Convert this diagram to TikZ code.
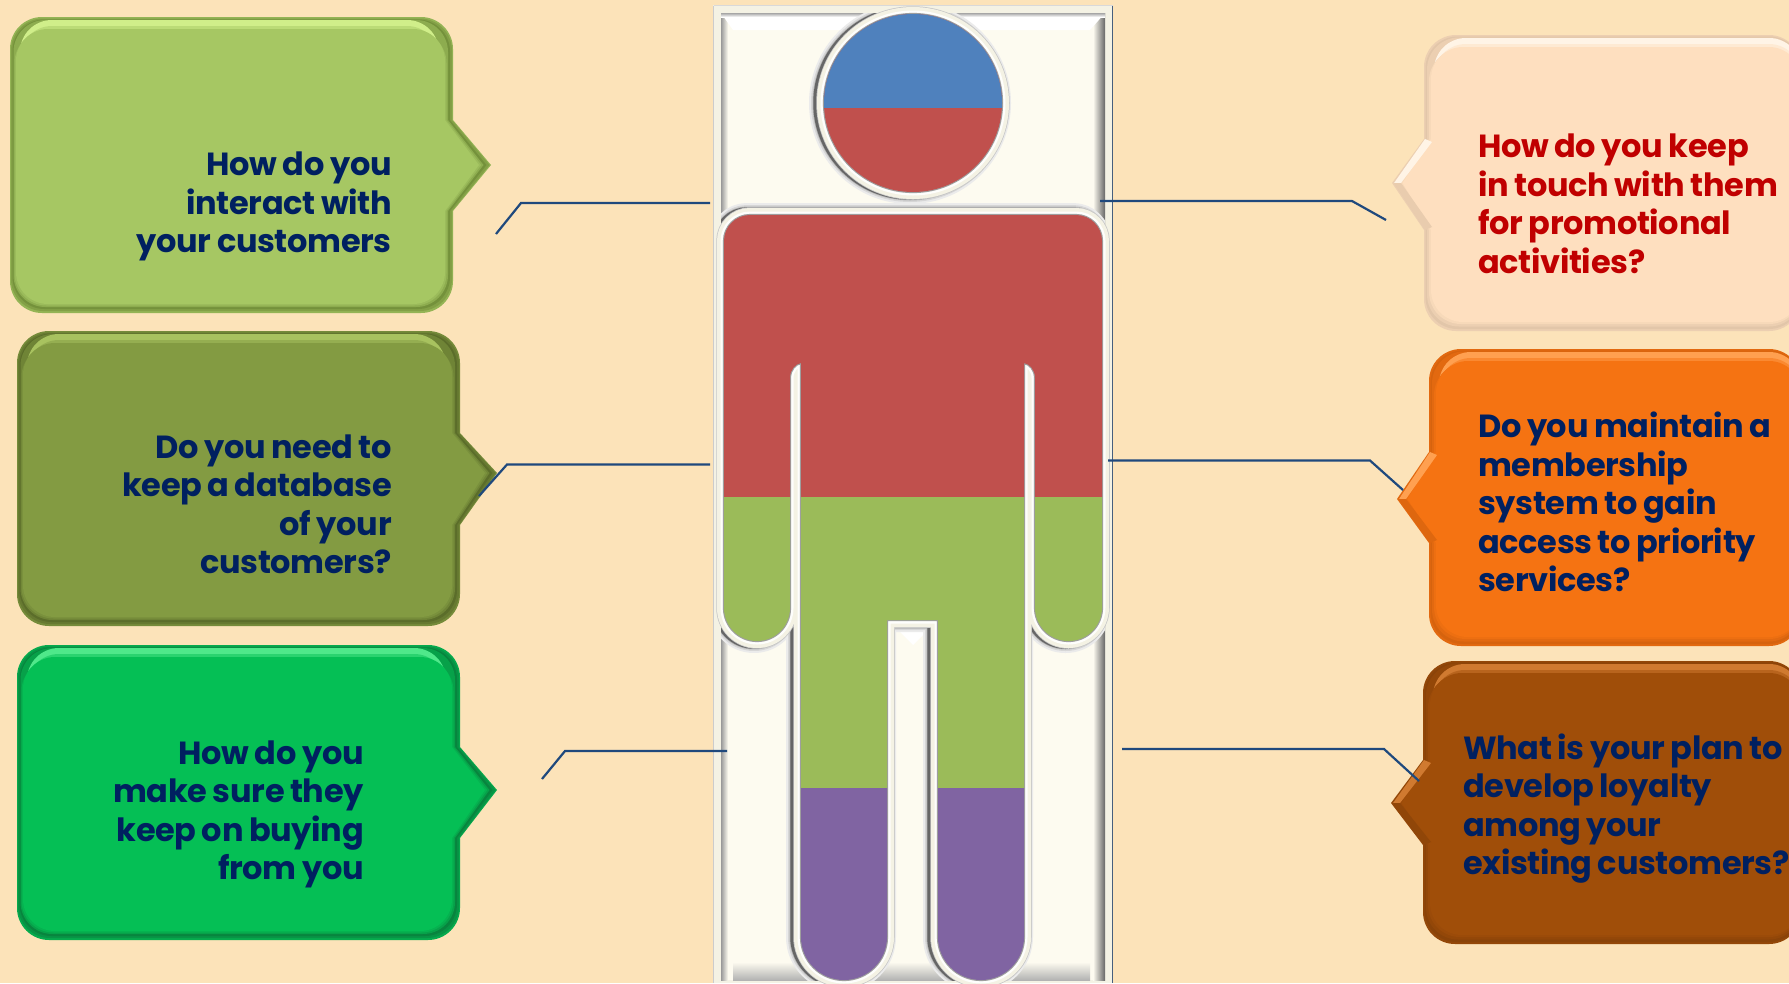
\documentclass[tikz,border=0pt]{standalone}
\usepackage{fontspec}
\setmainfont{Poppins}[WordSpace=0.85,LetterSpace=-1]
\definecolor{pagebg}{HTML}{FCE3B9}
\definecolor{panel}{HTML}{FDFBF0}
\definecolor{rimc}{HTML}{F4F2E4}
\definecolor{navy}{HTML}{002060}
\definecolor{leadc}{HTML}{1F497D}
\definecolor{figred}{HTML}{C0504D}
\definecolor{figgreen}{HTML}{9BBB59}
\definecolor{figpurple}{HTML}{8064A2}
\definecolor{figblue}{HTML}{4F81BD}
\definecolor{aM}{HTML}{A6C763}\definecolor{aH}{HTML}{D0EE8A}\definecolor{aD}{HTML}{5F7A2A}
\definecolor{bM}{HTML}{839B42}\definecolor{bH}{HTML}{A8C25F}\definecolor{bD}{HTML}{4A5A20}
\definecolor{cM}{HTML}{05BF55}\definecolor{cH}{HTML}{4FE88A}\definecolor{cD}{HTML}{0A6A34}
\definecolor{dM}{HTML}{FEDFBF}\definecolor{dH}{HTML}{FFF4E6}\definecolor{dD}{HTML}{B8A088}
\definecolor{eM}{HTML}{F57312}\definecolor{eH}{HTML}{FFA050}\definecolor{eD}{HTML}{A84C08}
\definecolor{fM}{HTML}{A04E09}\definecolor{fH}{HTML}{D07A30}\definecolor{fD}{HTML}{6A3206}
\definecolor{qred}{HTML}{C00000}
\tikzset{
  leadline/.style={draw=leadc,line width=2.2pt},
  qtext/.style={font=\bfseries\fontsize{32}{38.5}\selectfont,inner sep=0pt,text=navy},
}
% callout geometry: l t r b tipx tipy base1 base2
\newcommand\setcall[8]{\def\qL{#1}\def\qT{#2}\def\qR{#3}\def\qB{#4}\def\qX{#5}\def\qY{#6}\def\qU{#7}\def\qV{#8}}
% inset left, top, right, bottom, colour
\newcommand\layerR[5]{\fill[#5,rounded corners=32pt] ({\qL+#1},{(\qT+\qB)/2}) -- ({\qL+#1},{\qT+#2}) -- ({\qR-#3},{\qT+#2}) -- ({\qR-#3},{\qU-20}) [sharp corners] -- ({\qR-#3},\qU) -- ({\qX-1.5*#3},\qY) -- ({\qR-#3},\qV) -- ({\qR-#3},{\qV+20}) [rounded corners=32pt] -- ({\qR-#3},{\qB-#4}) -- ({\qL+#1},{\qB-#4}) -- cycle;}
\newcommand\layerL[5]{\fill[#5,rounded corners=32pt] ({\qR-#3},{(\qT+\qB)/2}) -- ({\qR-#3},{\qT+#2}) -- ({\qL+#1},{\qT+#2}) -- ({\qL+#1},{\qU-20}) [sharp corners] -- ({\qL+#1},\qU) -- ({\qX+1.5*#1},\qY) -- ({\qL+#1},\qV) -- ({\qL+#1},{\qV+20}) [rounded corners=32pt] -- ({\qL+#1},{\qB-#4}) -- ({\qR-#3},{\qB-#4}) -- cycle;}
\newcommand\bevelR[3]{%
  \layerR{0}{0}{0}{0}{#1!75!#3}
  \layerR{1}{1.5}{1}{2}{#1!50!#3}
  \layerR{2.5}{2.5}{3}{4}{#1!30!#3}
  \layerR{3.5}{3}{5}{6}{#1!65!#3}
  \layerR{10}{3}{14}{30}{#2}
  \layerR{10}{9}{14}{30}{#1!50!#2}
  \layerR{4.5}{14}{6.5}{7.5}{#1!85!#3}
  \layerR{6}{12}{8}{9}{#1}}
\newcommand\bevelL[3]{%
  \layerL{0}{0}{-6}{0}{#1!75!#3}
  \layerL{1.5}{1.5}{-6}{2}{#1!60!#3}
  \layerL{3}{2.5}{-6}{4.5}{#1!75!#3}
  \layerL{10}{3}{-6}{30}{#2}
  \layerL{10}{9}{-6}{30}{#1!50!#2}
  \layerL{5}{14}{-6}{7}{#1!90!#3}
  \layerL{7}{12}{-6}{9}{#1}
  \fill[#2] (\qL+1,\qU) -- (\qX+2,\qY) -- (\qX+9,\qY) -- (\qL+8,\qU+3) -- cycle;
  \fill[#1!70!#3] (\qL+1,\qV) -- (\qX+2,\qY) -- (\qX+9,\qY) -- (\qL+8,\qV-3) -- cycle;}
% silhouette of the figure (body)
\newcommand\bodypath{
  [rounded corners=26pt] (913,215) -- (1102,215)
  [rounded corners=33.4pt] -- (1102,641) -- (1035,641)
  [sharp corners] -- (1035,378) .. controls (1035,370) and (1030,364) .. (1024,363)
  [rounded corners=43pt] -- (1024,980) -- (938,980)
  [sharp corners] -- (938,620) -- (887,620)
  [rounded corners=43pt] -- (887,980) -- (801,980)
  [sharp corners] -- (801,363) .. controls (795,364) and (790,370) .. (790,378)
  [rounded corners=33pt] -- (790,641) -- (724,641)
  [rounded corners=26pt] -- (724,215) -- cycle}
\newcommand\figshape{\bodypath (913,103) circle[radius=89pt]}
\begin{document}
\begin{tikzpicture}[x=1pt,y=-1pt]
\useasboundingbox (0,0) rectangle (1789,983);
\fill[pagebg] (0,0) rectangle (1789,983);

% ---- panel ----
\fill[rimc] (713,5) rectangle (1113,983);
\draw[line width=1pt,draw=white!70!gray] (713.5,5.5) -- (1112.5,5.5);
\draw[line width=1pt,draw=white!60!gray] (713.5,5.5) -- (713.5,983);
\draw[line width=1.5pt,draw=leadc!60!gray] (1112.5,5.5) -- (1112.5,983);
\fill[panel] (721,13) rectangle (1105,980);
\shade[left color=gray!80,right color=panel] (721,13) rectangle (728,980);
\shade[left color=panel,right color=black!60] (1093,13) rectangle (1105,980);
\fill[white] (721,13) -- (1105,13) -- (1090,30) -- (733,30) -- cycle;
\shade[top color=gray!70,bottom color=white] (721,13) rectangle (1105,17);
\shade[top color=panel,bottom color=gray!60] (733,962) rectangle (1090,980);
\fill[white] (895,627) -- (931,627) -- (913,645) -- cycle;

% ---- embossed edge round the figure ----
\begin{scope}
\clip (721,13) rectangle (1105,980);
\foreach \w/\c in {24/black!8,20/black!16,17/black!30,15.5/black!60}{
  \draw[\c,line width=\w pt,line join=round,xshift=-3pt] \figshape;
}
\end{scope}
\draw[black!22,line width=15.5pt,line join=round] \figshape;
\draw[rimc,line width=14pt,line join=round] \figshape;
\draw[white!90!rimc,line width=7pt,line join=round] \figshape;
\draw[black!38,line width=2.2pt] \figshape;

% ---- colour bands ----
\begin{scope}
\clip \figshape;
\fill[figred] (713,0) rectangle (1113,497);
\fill[figgreen] (713,497) rectangle (1113,788);
\fill[figpurple] (713,788) rectangle (1113,983);
\fill[figblue] (800,0) rectangle (1030,108);
\end{scope}

% ---- callouts ----
\setcall{10}{17}{453}{313}{491}{165}{120}{211}\bevelR{aM}{aH}{aD}
\setcall{17}{331}{460}{626}{497}{473}{433}{525}\bevelR{bM}{bH}{bD}
\setcall{17}{645}{460}{940}{497}{790}{747}{838}\bevelR{cM}{cH}{cD}
\setcall{1424}{35}{1795}{331}{1392}{183}{139}{230}\bevelL{dM}{dH}{dD}
\setcall{1429}{349}{1795}{646}{1397}{499}{452}{543}\bevelL{eM}{eH}{eD}
\setcall{1423}{661}{1795}{944}{1391}{803}{760}{845}\bevelL{fM}{fH}{fD}

% ---- texts ----
\node[qtext,anchor=east,align=right] (q1) at (392,206.5) {How do you\\interact with\\your customers};
\node[qtext,anchor=east,align=right] (q2) at (392,504.5) {Do you need to\\keep a database\\of your\\customers?};
\node[qtext,anchor=east,align=right] (q3) at (364,814.5) {How do you\\make sure they\\keep on buying\\from you};
\node[qtext,anchor=west,align=left,text=qred] (q4) at (1478,204) {How do you keep\\in touch with them\\for promotional\\activities?};
\node[qtext,anchor=west,align=left] (q5) at (1478,502) {Do you maintain a\\membership\\system to gain\\access to priority\\services?};
\node[qtext,anchor=west,align=left] (q6) at (1463,808.5) {What is your plan to\\develop loyalty\\among your\\existing customers?};

% ---- connectors ----
\coordinate (a1) at (710,203); \coordinate (a2) at (521,203); \coordinate (a3) at (496,234);
\coordinate (b1) at (710,464.5); \coordinate (b2) at (507,464.5); \coordinate (b3) at (479,496);
\coordinate (c1) at (727,751); \coordinate (c2) at (565,751); \coordinate (c3) at (542,779);
\coordinate (d1) at (1100,201); \coordinate (d2) at (1352,201); \coordinate (d3) at (1386,220);
\coordinate (e1) at (1108,460.5); \coordinate (e2) at (1370,460.5); \coordinate (e3) at (1403,490);
\coordinate (f1) at (1122,749); \coordinate (f2) at (1384,749); \coordinate (f3) at (1419,781);
\draw[leadline] (a1) -- (a2) -- (a3);
\draw[leadline] (b1) -- (b2) -- (b3);
\draw[leadline] (c1) -- (c2) -- (c3);
\draw[leadline] (d1) -- (d2) -- (d3);
\draw[leadline] (e1) -- (e2) -- (e3);
\draw[leadline] (f1) -- (f2) -- (f3);
\end{tikzpicture}
\end{document}
